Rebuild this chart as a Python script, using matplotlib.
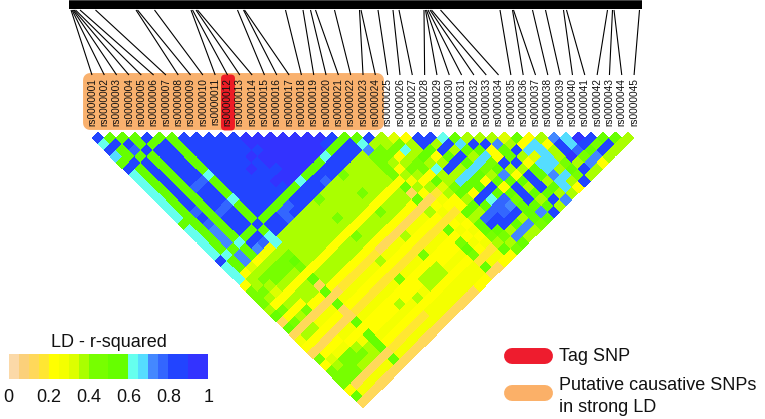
import numpy as np
import matplotlib
matplotlib.use('Agg')
import matplotlib.pyplot as plt
from matplotlib.colors import ListedColormap, BoundaryNorm
from matplotlib.patches import FancyBboxPatch
from matplotlib.cm import ScalarMappable

plt.rcParams['font.family'] = ['Liberation Sans', 'DejaVu Sans']

snp_names = ['rs%07d' % n for n in range(1, 46)]

# where each SNP sits on the black bar (pixels)
bar_pos = [71, 72, 73, 74, 75.5, 80, 95.5, 136, 137.5, 154.5, 191, 192.5, 196, 197.5, 237.5, 243.5, 244.5,
           285.5, 303, 310.5, 315.5, 334.5, 359.5, 361, 378, 393, 399, 424, 425.5, 426.5, 428, 430, 431.5,
           440.5, 500, 512.5, 513.5, 532.5, 545.5, 563.5, 566.5, 607.5, 612.5, 614, 639.5]

# LD level of each pair, one string per SNP: row n holds pairs (n, n+1) ... (n, 45)
level_value = {'D': .125, 'P': .175, 'Y': .225, 'E': .275, 'F': .325, 'L': .375, 'H': .45, 'G': .55,
               'C': .625, 'S': .675, 'M': .725, 'N': .775, 'B': .85, 'V': .95}
ld_rows = [
    'BCBSGBCCCCCCCCGCCCCCBCCCYHHHLGDGDEYDHYHHHYGD',
    'GBGGBGGGGGGGGGGGGGGCGGYLLHLYHYHDLYDYFLHHDED',
    'GBNGBBBBBBBBNBNMMMGMMFLHLFYLYLDLYDYEHHHDED',
    'GGBGGGGGGGGGGGGGGCGGYLHHLYLYHDEYDYEHHLDED',
    'BGBBBBBBNBBBNBBBGBMELHHLYLLYDEYDEYLHLDED',
    'GBBBBBBNBBBNBBBGBNELHHLYLLYDEYDEYELLDED',
    'GGGGGGCGGGCGGGBGCCLHGHYGDGDGDDGYGGGDGD',
    'BBBBBBBBBBBBBGBBLLLLLYLLYDEYPEYYEYPED',
    'BBBBBBBBBBBBGBBLLLLLYLLYPEYPEYYEYPED',
    'BBBBBBBBBBBGNNLLLLLYLLYPEYPEYYEYPED',
    'BBBBBVBBBBGNBLLLLLYLLYPEYPEYYEYPED',
    'BBBVBBBVBGBBLLLLLYLLYPEYPEYLEYPED',
    'VVBVVBVVGBBLLLLLYLLYPEYPEYYEYPED',
    'VVVVVVVCBBHLLHLYHLYPLYPHYYLYEED',
    'VVVVVVGBBLLLLLYLLYDEYPEYYEYEED',
    'VVVVVGBNLLLLLYLLYDEYPEYLLYEED',
    'VVVVGBBLLLLLYLLYDEYPEYLLYEED',
    'VVVCBBHLLHLYHLYDLYPHYLLYEED',
    'VBGBBLLLLLYLLYDEYPEYYEYEED',
    'BGBBLLLLLYLLYDEYPEYYEYEEY',
    'GBBLLLLLYLLYDEYPEYYEYEEY',
    'GCMHHHHYGDGDLYPGYHGHPGD',
    'BLHHLYLELYDYEPYEYEYPED',
    'LLHYLHLYLPEYPEYEYEPEY',
    'FHCLHHYGFLYYGLGGHLGY',
    'YLLGLCLLHGLGLNBGHLH',
    'BBGYLBLSGYBGNBBLMG',
    'BLBGBLSGGBCNNBGML',
    'CBLBGSGYBGNMBLML',
    'GSGLSHLGYGHGGGH',
    'LBGSHGMGBBBGMG',
    'LBYYBLYGLGLGB',
    'LMGGBLBBBGBL',
    'FLBLYGGLGLM',
    'GYSFSSMSSL',
    'YSSSSLSLY',
    'LYLLHGHB',
    'MBBVLBL',
    'SSNHML',
    'VBGMY',
    'BHBL',
    'GBL',
    'GL',
    'L',
]

# colour scale
scale_bounds = [0, .05, .1, .15, .2, .25, .3, .35, .4, .5, .6, .65, .7, .75, .8, .9, 1]
scale_colors = ['#FBD9A8', '#FBD07A', '#FFD85A', '#FFE632', '#FFFF00', '#F4FF00', '#DDFF00', '#AAFF00', '#77FF00',
                '#66FF00', '#66FFEE', '#55DDFF', '#4488FF', '#3366FF', '#2244FF', '#3333FF']
scale_ticks = [0, .2, .4, .6, .8, 1]
scale_labels = ['0', '0.2', '0.4', '0.6', '0.8', '1']

n = len(snp_names)
ld = np.full((n, n), np.nan)
for a, row in enumerate(ld_rows):
    assert len(row) == n - a - 1, (a, len(row))
    for k, code in enumerate(row):
        ld[a, a + k + 1] = level_value[code]

cmap = ListedColormap(scale_colors)
norm = BoundaryNorm(scale_bounds, cmap.N)

fig = plt.figure(figsize=(7.65, 4.19), dpi=100)
ax = fig.add_axes([0, 0, 1, 1])
ax.set_xlim(0, 765)
ax.set_ylim(419, 0)
ax.axis('off')

# triangle: rotate the matrix by 45 degrees into pixel space
u, v = np.meshgrid(np.arange(n + 1) + 0.5, np.arange(n + 1) + 0.5, indexing='ij')
X = 98 + 6.16 * (u + v - 3)
Y = 138 + 6.14 * (v - u - 1)
ax.pcolormesh(X, Y, np.ma.masked_invalid(ld), cmap=cmap, norm=norm, antialiased=False, linewidth=0)

# top bar and connectors
ax.fill_between([69, 642], 0, 9.5, color='black', lw=0)
ax.fill_between([69, 642], 0, 1, color='#444444', lw=0)
label_x = 92 + 12.32 * np.arange(n)
for k in range(n):
    ax.plot([bar_pos[k], label_x[k]], [10, 75], color='black', lw=0.8, solid_capstyle='butt')

# highlight boxes behind labels
ax.add_patch(FancyBboxPatch((90, 80), 287, 43, boxstyle='round,pad=0,rounding_size=0', fc='#F9B16E', ec='#F9B16E',
                            lw=10, joinstyle='round'))
ax.add_patch(FancyBboxPatch((224.5, 78), 7, 49, boxstyle='round,pad=0', fc='#EE1C25', ec='#EE1C25', lw=5,
                            joinstyle='round'))
for k in range(n):
    ax.text(label_x[k], 78, snp_names[k], rotation=90, ha='center', va='top', fontsize=7.3, color='#111111')

# legend on the right
ax.plot([512, 545], [356, 356], color='#EE1C2E', lw=11.5, solid_capstyle='round')
ax.plot([512, 545], [393, 393], color='#FBB068', lw=11.5, solid_capstyle='round')
ax.text(559, 356, 'Tag SNP', fontsize=13, va='center', color='#111111')
ax.text(559, 385, 'Putative causative SNPs', fontsize=13, va='center', color='#111111')
ax.text(559, 407, 'in strong LD', fontsize=13, va='center', color='#111111')

# colour bar
cax = fig.add_axes([8.7 / 765, 1 - 379 / 419, 199.5 / 765, 25 / 419])
cb = fig.colorbar(ScalarMappable(norm=norm, cmap=cmap), cax=cax, orientation='horizontal', spacing='proportional',
                  ticks=scale_ticks)
cb.ax.set_xticklabels(scale_labels, fontsize=13, color='#111111')
cb.ax.tick_params(length=0, pad=7)
cb.ax.xaxis.set_ticks([], minor=True)
cb.outline.set_visible(False)
cax.set_title('LD - r-squared', fontsize=13, pad=5, color='#111111')

plt.savefig('out.png', dpi=100)
